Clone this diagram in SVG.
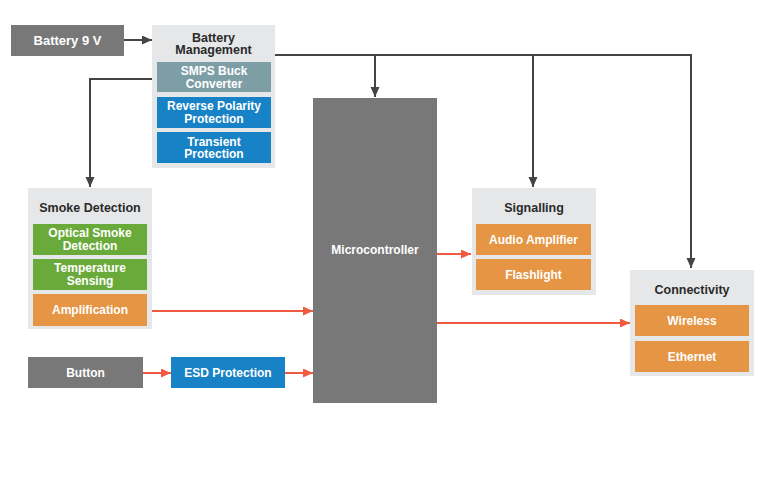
<svg xmlns="http://www.w3.org/2000/svg" width="773" height="490" viewBox="0 0 773 490">
<defs>
<style>
.panel{fill:#e6e7e8}
.gray{fill:#787878}
.blue{fill:#1782c5}
.green{fill:#6aaa3a}
.orange{fill:#e59544}
.slate{fill:#7e9ea6}
.t{font-family:"Liberation Sans",Arial,sans-serif;font-weight:bold;text-anchor:middle}
.w{fill:#ffffff;font-size:12px}
.h{fill:#2a2a2a;font-size:12.5px}
.dk{stroke:#444444;stroke-width:2;fill:none}
.rd{stroke:#ef5a41;stroke-width:2;fill:none}
</style>
<marker id="ad" markerUnits="userSpaceOnUse" markerWidth="11" markerHeight="10" refX="10" refY="4.5" orient="auto"><path d="M0,0 L10,4.5 L0,9 z" fill="#444444"/></marker>
<marker id="ar" markerUnits="userSpaceOnUse" markerWidth="11" markerHeight="10" refX="10" refY="4.5" orient="auto"><path d="M0,0 L10,4.5 L0,9 z" fill="#ef5a41"/></marker>
</defs>
<rect width="773" height="490" fill="#ffffff"/>
<g id="connectors">
<path class="dk" d="M124,40 H152" marker-end="url(#ad)"/>
<path class="dk" d="M275,55 H691 V268" marker-end="url(#ad)"/>
<path class="dk" d="M375,55 V97" marker-end="url(#ad)"/>
<path class="dk" d="M533,55 V187" marker-end="url(#ad)"/>
<path class="dk" d="M152,79 H90 V187" marker-end="url(#ad)"/>
<path class="rd" d="M152,311 H313" marker-end="url(#ar)"/>
<path class="rd" d="M143,373 H171" marker-end="url(#ar)"/>
<path class="rd" d="M285,373 H313" marker-end="url(#ar)"/>
<path class="rd" d="M437,254 H471" marker-end="url(#ar)"/>
<path class="rd" d="M437,323 H630" marker-end="url(#ar)"/>
</g>
<g id="battery">
<rect class="gray" x="11" y="25" width="113" height="31"/>
<text class="t" x="67.5" y="45" fill="#ffffff" font-size="13">Battery 9 V</text>
</g>
<g id="battery-management">
<rect class="panel" x="152" y="25" width="123" height="143"/>
<text class="t h" x="213.5" y="41.5">Battery</text>
<text class="t h" x="213.5" y="54">Management</text>
<rect class="slate" x="157" y="62" width="114" height="30"/>
<text class="t w" x="214" y="75">SMPS Buck</text>
<text class="t w" x="214" y="88">Converter</text>
<rect class="blue" x="157" y="97" width="114" height="31"/>
<text class="t w" x="214" y="110">Reverse Polarity</text>
<text class="t w" x="214" y="122.7">Protection</text>
<rect class="blue" x="157" y="132" width="114" height="31"/>
<text class="t w" x="214" y="145.5">Transient</text>
<text class="t w" x="214" y="158">Protection</text>
</g>
<g id="smoke-detection">
<rect class="panel" x="28" y="188" width="124" height="141"/>
<text class="t h" x="90" y="212">Smoke Detection</text>
<rect class="green" x="33" y="224" width="114" height="31"/>
<text class="t w" x="90" y="237">Optical Smoke</text>
<text class="t w" x="90" y="249.7">Detection</text>
<rect class="green" x="33" y="259" width="114" height="31"/>
<text class="t w" x="90" y="272">Temperature</text>
<text class="t w" x="90" y="284.7">Sensing</text>
<rect class="orange" x="33" y="294" width="114" height="32"/>
<text class="t w" x="90" y="314.3">Amplification</text>
</g>
<g id="button">
<rect class="gray" x="28" y="357" width="115" height="31"/>
<text class="t w" x="85.5" y="377.3">Button</text>
</g>
<g id="esd-protection">
<rect class="blue" x="171" y="357" width="114" height="31"/>
<text class="t w" x="228" y="377.3">ESD Protection</text>
</g>
<g id="microcontroller">
<rect class="gray" x="313" y="98" width="124" height="305"/>
<text class="t w" x="375" y="253.6">Microcontroller</text>
</g>
<g id="signalling">
<rect class="panel" x="472" y="188" width="124" height="107"/>
<text class="t h" x="534" y="212">Signalling</text>
<rect class="orange" x="476" y="224" width="115" height="31"/>
<text class="t w" x="533.5" y="244">Audio Amplifier</text>
<rect class="orange" x="476" y="259" width="115" height="31"/>
<text class="t w" x="533.5" y="279">Flashlight</text>
</g>
<g id="connectivity">
<rect class="panel" x="630" y="270" width="124" height="106"/>
<text class="t h" x="692" y="294">Connectivity</text>
<rect class="orange" x="635" y="305" width="114" height="31"/>
<text class="t w" x="692" y="325">Wireless</text>
<rect class="orange" x="635" y="341" width="114" height="31"/>
<text class="t w" x="692" y="360.5">Ethernet</text>
</g>
</svg>
